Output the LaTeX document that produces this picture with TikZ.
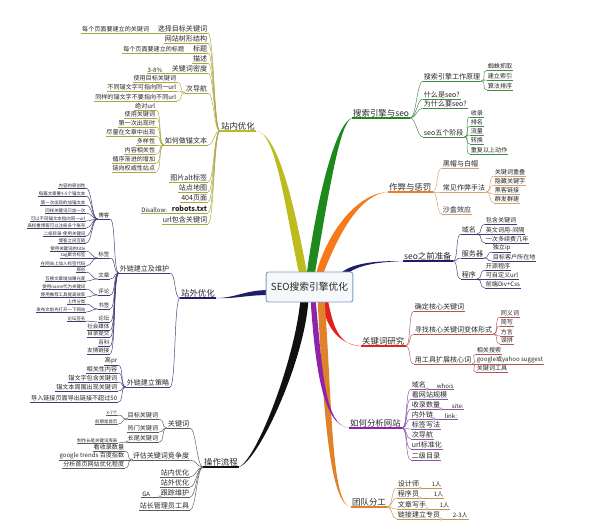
\documentclass[tikz,border=0pt]{standalone}
\usepackage{fontspec}
\setmainfont{Noto Sans CJK SC}
\usetikzlibrary{calc,backgrounds}

\definecolor{txt}{HTML}{262626}
\definecolor{rootline}{HTML}{7F9DC0}
\definecolor{rootfill}{HTML}{F6F8FB}
\definecolor{brOlive}{HTML}{BDBB1E}\definecolor{lnOlive}{HTML}{A9A640}
\definecolor{brGreen}{HTML}{1E8A1E}\definecolor{lnGreen}{HTML}{3C8C46}
\definecolor{brOrange}{HTML}{F47A1C}\definecolor{lnOrange}{HTML}{D9A06E}
\definecolor{brNavy}{HTML}{1D1D6B}\definecolor{lnNavy}{HTML}{3C3C72}
\definecolor{brRed}{HTML}{E4201C}\definecolor{lnRed}{HTML}{B65454}
\definecolor{brPurple}{HTML}{8E22A8}\definecolor{lnPurple}{HTML}{8A55A8}
\definecolor{brAmber}{HTML}{E0822A}\definecolor{lnAmber}{HTML}{C4934F}
\definecolor{brBlack}{HTML}{111111}\definecolor{lnBlack}{HTML}{5A5A5A}

\tikzset{
  root/.style={draw=rootline, fill=rootfill, rounded corners=2pt, line width=0.8pt,
    minimum width=26mm, minimum height=9mm, inner sep=1pt, text=txt,
    font=\fontsize{8.3}{9}\selectfont},
  ul/.style={append after command={(\tikzlastnode.south west)
    edge[draw=linecol, line width=0.35pt] (\tikzlastnode.south east)}},
  main/.style={inner sep=0.8pt, text=txt, font=\fontsize{7.2}{8}\selectfont,
    append after command={(\tikzlastnode.south west)
    edge[draw=brcol, line width=1.3pt] (\tikzlastnode.south east)}},
  lvl/.style={ul, inner sep=0.6pt, text=txt, font=\fontsize{6}{7}\selectfont},
  leaf/.style={ul, inner sep=0.5pt, text=txt, font=\fontsize{5.2}{6}\selectfont},
  tiny/.style={ul, inner sep=0.4pt, text=txt, font=\fontsize{4.7}{5.5}\selectfont},
  micro/.style={ul, inner sep=0.3pt, text=txt, font=\fontsize{3.8}{4.5}\selectfont},
  conn/.style={draw=linecol, line width=0.4pt},
  toR/.style={out=0, in=180, distance=1.8mm},
  toL/.style={out=180, in=0, distance=1.8mm},
  knot/.style={draw=linecol, fill=white, line width=0.3pt},
}

\begin{document}
\begin{tikzpicture}[x=0.3mm, y=-0.3mm]
	\useasboundingbox (0,0) rectangle (600,529);
	\node[root] (root) at (309.5,287) {SEO搜索引擎优化};

	\begin{scope} % 站内优化
		\colorlet{brcol}{brOlive}\colorlet{linecol}{lnOlive}
		\node[main, anchor=south east] (zn) at (256,131) {站内优化};
		\begin{pgfonlayer}{background}
			\fill[brcol] ($(root.north)+(-10,4)$) .. controls +(-15,-70) and +(20,0) .. (zn.south east)
				.. controls +(22,1.5) and +(-13,-70) .. ($(root.north)+(-2,4)$) -- cycle;
		\end{pgfonlayer}
		\foreach \t/\y [count=\i] in {选择目标关键词/33, 网站树形结构/43, 标题/53, 描述/63, 关键词密度/73, 次导航/93,
			如何做锚文本/145, 图片alt标签/182, 站点地图/192, 404页面/202, {\bfseries robots.txt}/213, url包含关键词/224}{
			\node[lvl, anchor=south east] (zn\i) at (208,\y) {\t};
			\draw[conn] (zn.south west) to[toL] (zn\i.south east);
		}
		\node[leaf, anchor=south east] (zn1-1) at (150,33) {每个页面要建立的关键词};
		\draw[conn] (zn1.south west) -- (zn1-1.south east);
		\node[leaf, anchor=south east] (zn3-1) at (185,53) {每个页面要建立的标题};
		\draw[conn] (zn3.south west) -- (zn3-1.south east);
		\node[leaf, anchor=south east] (zn5-1) at (163,73) {3-8\%};
		\draw[conn] (zn5.south west) -- (zn5-1.south east);
		\foreach \t/\y [count=\i] in {使用目标关键词/82, 不同锚文字可指向同一url/91, 同样的锚文字不要指向不同url/101}{
			\node[leaf, anchor=south east] (zn6-\i) at (177,\y) {\t};
			\draw[conn] (zn6.south west) to[toL] (zn6-\i.south east);
		}
		\foreach \t/\y [count=\i] in {绝对url/110, 使用关键词/118, 第一次出现时/127, 尽量在文章中出现/136,
			多样性/145, 内容相关性/154, 循序渐进的增加/163, 链向权威性站点/172}{
			\node[leaf, anchor=south east] (zn7-\i) at (156,\y) {\t};
			\draw[conn] (zn7.south west) to[toL] (zn7-\i.south east);
		}
		\node[leaf, anchor=south east] (zn11-1) at (168,213) {Disallow:};
		\draw[conn] (zn11.south west) -- (zn11-1.south east);
	\end{scope}

	\begin{scope} % 站外优化
		\colorlet{brcol}{brNavy}\colorlet{linecol}{lnNavy}
		\node[main, anchor=south east] (zh) at (216,298) {站外优化};
		\begin{pgfonlayer}{background}
			\fill[brcol] ($(root.west)+(4,3)$) .. controls +(-25,0) and +(20,0) .. (zh.south east)
				.. controls +(20,1) and +(-25,0) .. ($(root.west)+(4,8)$) -- cycle;
		\end{pgfonlayer}
		\node[lvl, anchor=south east] (zh1) at (170,273) {外链建立及维护};
		\node[lvl, anchor=south east] (zh2) at (170,387) {外链建立策略};
		\foreach \i in {1,2}
			\draw[conn] (zh.south west) to[toL] (zh\i.south east);
		\foreach \t/\y [count=\i] in {博客/219, 标签/258, 文章/279, 评论/295, 书签/309, 论坛/322,
			社会媒体/330, 目录提交/337, 百科/346, 友情链接/354}{
			\node[tiny, anchor=south east] (zh1-\i) at (110,\y) {\t};
			\draw[conn] (zh1.south west) to[toL] (zh1-\i.south east);
		}
		\foreach \t/\y [count=\i] in {内容的原创性/188, 每篇文章要3-5个锚文本/196, 第一次出现的加锚文本/205,
			同样关键词只加一次/213, 可以不同锚文本指向同一url/221, 高权重博客可以注册多个账号/228,
			二级目录-使用关键词/236, 博客之间互链/243}{
			\node[micro, anchor=south east] (zh1-1-\i) at (86,\y) {\t};
			\draw[conn] (zh1-1.south west) to[toL] (zh1-1-\i.south east);
		}
		\foreach \t/\y [count=\i] in {使用关键词的title/251, tag聚合标签/258, 在网站上加入标签代码/266}{
			\node[micro, anchor=south east] (zh1-2-\i) at (86,\y) {\t};
			\draw[conn] (zh1-2.south west) to[toL] (zh1-2-\i.south east);
		}
		\foreach \t/\y [count=\i] in {原创/272, 互换文章增加曝光度/281}{
			\node[micro, anchor=south east] (zh1-3-\i) at (86,\y) {\t};
			\draw[conn] (zh1-3.south west) to[toL] (zh1-3-\i.south east);
		}
		\foreach \t/\y [count=\i] in {使用name代为关键词/289, 使用推荐工具提高效率/297}{
			\node[micro, anchor=south east] (zh1-4-\i) at (86,\y) {\t};
			\draw[conn] (zh1-4.south west) to[toL] (zh1-4-\i.south east);
		}
		\foreach \t/\y [count=\i] in {上传分类/304, 发布文前先打开一下网站/312}{
			\node[micro, anchor=south east] (zh1-5-\i) at (86,\y) {\t};
			\draw[conn] (zh1-5.south west) to[toL] (zh1-5-\i.south east);
		}
		\node[micro, anchor=south east] (zh1-6-1) at (86,321) {论坛签名};
		\draw[conn] (zh1-6.south west) to[toL] (zh1-6-1.south east);
		\foreach \t/\y [count=\i] in {高pr/365, 相关性内容/373, 锚文字包含关键词/382, 锚文本周围出现关键词/391,
			导入链接页面导出链接不超过50/402}{
			\node[leaf, anchor=south east] (zh2-\i) at (118,\y) {\t};
			\draw[conn] (zh2.south west) to[toL] (zh2-\i.south east);
		}
	\end{scope}

	\begin{scope} % 操作流程
		\colorlet{brcol}{brBlack}\colorlet{linecol}{lnBlack}
		\node[main, anchor=south east] (zi) at (239,467) {操作流程};
		\begin{pgfonlayer}{background}
			\fill[brcol] ($(root.south)+(-9,-4)$) .. controls +(-5,60) and +(18,-8) .. (zi.south east)
				.. controls +(20,-6) and +(-3,60) .. ($(root.south)+(-1,-4)$) -- cycle;
		\end{pgfonlayer}
		\foreach \t/\y [count=\i] in {关键词/428, 评估关键词竞争度/460, 站内优化/477, 站外优化/487, 跟踪维护/497, 站长管理员工具/510}{
			\node[lvl, anchor=south east] (zi\i) at (190,\y) {\t};
			\draw[conn] (zi.south west) to[toL] (zi\i.south east);
		}
		\foreach \t/\y [count=\i] in {目标关键词/419, 热门关键词/432, 长尾关键词/442}{
			\node[leaf, anchor=south east] (zi1-\i) at (159,\y) {\t};
			\draw[conn] (zi1.south west) to[toL] (zi1-\i.south east);
		}
		\foreach \t/\y [count=\i] in {3-7个/415, 前期是首页/424}{
			\node[micro, anchor=south east] (zi1-1-\i) at (118,\y) {\t};
			\draw[conn] (zi1-1.south west) to[toL] (zi1-1-\i.south east);
		}
		\node[micro, anchor=south east] (zi1-3-1) at (118,443) {制作长尾关键词库表};
		\draw[conn] (zi1-3.south west) -- (zi1-3-1.south east);
		\foreach \t/\y [count=\i] in {看收录数量/451, google trends 百度指数/460, 分析首页网站优化程度/468}{
			\node[leaf, anchor=south east] (zi2-\i) at (125,\y) {\t};
			\draw[conn] (zi2.south west) to[toL] (zi2-\i.south east);
		}
		\node[leaf, anchor=south east] (zi5-1) at (151,497) {GA};
		\draw[conn] (zi5.south west) -- (zi5-1.south east);
		\foreach \n in {zi1-1, zi1-3, zi2, zi5}
			\draw[knot] (\n.south west) circle [radius=0.4mm];
	\end{scope}

	\begin{scope} % 搜索引擎与seo
		\colorlet{brcol}{brGreen}\colorlet{linecol}{lnGreen}
		\node[main, anchor=south west] (ss) at (352,118) {搜索引擎与seo};
		\begin{pgfonlayer}{background}
			\fill[brcol] ($(root.north)+(-3,4)$) .. controls +(12,-90) and +(-14,3) .. (ss.south west)
				.. controls +(-12,4) and +(15,-88) .. ($(root.north)+(5,4)$) -- cycle;
		\end{pgfonlayer}
		\foreach \t/\y [count=\i] in {搜索引擎工作原理/81, 什么是seo?/99, 为什么要seo?/108, seo五个阶段/137}{
			\node[lvl, anchor=south west] (ss\i) at (423,\y) {\t};
			\draw[conn] (ss.south east) to[toR] (ss\i.south west);
		}
		\foreach \t/\y [count=\i] in {蜘蛛抓取/70, 建立索引/80, 算法排序/90}{
			\node[leaf, anchor=south west] (ss1-\i) at (487,\y) {\t};
			\draw[conn] (ss1.south east) to[toR] (ss1-\i.south west);
		}
		\foreach \t/\y [count=\i] in {收录/117, 排名/126, 流量/135, 转换/144, 重复以上动作/154}{
			\node[leaf, anchor=south west] (ss4-\i) at (470,\y) {\t};
			\draw[conn] (ss4.south east) to[toR] (ss4-\i.south west);
		}
	\end{scope}

	\begin{scope} % 作弊与惩罚
		\colorlet{brcol}{brOrange}\colorlet{linecol}{lnOrange}
		\node[main, anchor=south west] (zb) at (388,192) {作弊与惩罚};
		\begin{pgfonlayer}{background}
			\fill[brcol] ($(root.north)+(6,4)$) .. controls +(12,-45) and +(-30,1) .. (zb.south west)
				.. controls +(-28,2) and +(16,-42) .. ($(root.north)+(13,4)$) -- cycle;
		\end{pgfonlayer}
		\foreach \t/\y [count=\i] in {黑帽与白帽/168, 常见作弊手法/192, 沙盒效应/214}{
			\node[lvl, anchor=south west] (zb\i) at (442,\y) {\t};
			\draw[conn] (zb.south east) to[toR] (zb\i.south west);
		}
		\foreach \t/\y [count=\i] in {关键词重叠/176, 隐藏关键字/185, 黑客链接/194, 群发群建/203}{
			\node[leaf, anchor=south west] (zb2-\i) at (494,\y) {\t};
			\draw[conn] (zb2.south east) to[toR] (zb2-\i.south west);
		}
	\end{scope}

	\begin{scope} % seo之前准备
		\colorlet{brcol}{brNavy}\colorlet{linecol}{lnNavy}
		\node[main, anchor=south west] (zc) at (403,261) {seo之前准备};
		\begin{pgfonlayer}{background}
			\fill[brcol] ($(root.north east)+(-15,4)$) .. controls +(12,-14) and +(-22,0) .. (zc.south west)
				.. controls +(-20,1) and +(12,-12) .. ($(root.north east)+(-8,4)$) -- cycle;
		\end{pgfonlayer}
		\foreach \t/\y [count=\i] in {域名/234, 服务器/258, 程序/279}{
			\node[lvl, anchor=south west] (zc\i) at (461,\y) {\t};
			\draw[conn] (zc.south east) to[toR] (zc\i.south west);
		}
		\foreach \t/\y [count=\i] in {包含关键词/224, 英文词用-间隔/234, 一次多续费几年/243}{
			\node[leaf, anchor=south west] (zc1-\i) at (485,\y) {\t};
			\draw[conn] (zc1.south east) to[toR] (zc1-\i.south west);
		}
		\foreach \t/\y [count=\i] in {独立ip/252, 目标客户所在地/261}{
			\node[leaf, anchor=south west] (zc2-\i) at (492,\y) {\t};
			\draw[conn] (zc2.south east) to[toR] (zc2-\i.south west);
		}
		\foreach \t/\y [count=\i] in {开源程序/270, 可自定义url/279, 前端Div+Css/288}{
			\node[leaf, anchor=south west] (zc3-\i) at (485,\y) {\t};
			\draw[conn] (zc3.south east) to[toR] (zc3-\i.south west);
		}
	\end{scope}

	\begin{scope} % 关键词研究
		\colorlet{brcol}{brRed}\colorlet{linecol}{lnRed}
		\node[main, anchor=south west] (zd) at (361,346) {关键词研究};
		\begin{pgfonlayer}{background}
			\fill[brcol] ($(root.south)+(12,-4)$) .. controls +(3,25) and +(-25,-2) .. (zd.south west)
				.. controls +(-24,0) and +(5,24) .. ($(root.south)+(18,-4)$) -- cycle;
		\end{pgfonlayer}
		\foreach \t/\y [count=\i] in {确定核心关键词/311, 寻找核心关键词变体形式/334, 用工具扩展核心词/364}{
			\node[lvl, anchor=south west] (zd\i) at (414,\y) {\t};
			\draw[conn] (zd.south east) to[toR] (zd\i.south west);
		}
		\foreach \t/\y [count=\i] in {同义词/317, 简写/326, 方言/336, 误拼/344}{
			\node[leaf, anchor=south west] (zd2-\i) at (500,\y) {\t};
			\draw[conn] (zd2.south east) to[toR] (zd2-\i.south west);
		}
		\foreach \t/\y [count=\i] in {相关搜索/354, google或yahoo suggest/364, 关键词工具/372}{
			\node[leaf, anchor=south west] (zd3-\i) at (476,\y) {\t};
			\draw[conn] (zd3.south east) to[toR] (zd3-\i.south west);
		}
	\end{scope}

	\begin{scope} % 团队分工
		\colorlet{brcol}{brAmber}\colorlet{linecol}{lnAmber}
		\node[main, anchor=south west] (zf) at (351,507) {团队分工};
		\begin{pgfonlayer}{background}
			\fill[brcol] ($(root.south)+(8,-4)$) .. controls +(6,110) and +(-22,-3) .. (zf.south west)
				.. controls +(-20,-2) and +(8,108) .. ($(root.south)+(15,-4)$) -- cycle;
		\end{pgfonlayer}
		\foreach \t/\y/\x/\n [count=\i] in {设计师/488/431/1人, 程序员/498/433/1人, 文章写手/509/439/1人, 链接建立专员/519/452/2-3人}{
			\node[lvl, anchor=south west] (zf\i) at (397,\y) {\t};
			\draw[conn] (zf.south east) to[toR] (zf\i.south west);
			\node[leaf, anchor=south west] (zf\i-1) at (\x,\y) {\n};
			\draw[conn] (zf\i.south east) -- (zf\i-1.south west);
			\draw[knot] (zf\i.south east) circle [radius=0.4mm];
		}
	\end{scope}

	\begin{scope} % 如何分析网站
		\colorlet{brcol}{brPurple}\colorlet{linecol}{lnPurple}
		\node[main, anchor=south west] (ze) at (349,428) {如何分析网站};
		\begin{pgfonlayer}{background}
			\fill[brcol] ($(root.south)+(1,-4)$) .. controls +(5,75) and +(-25,-3) .. (ze.south west)
				.. controls +(-24,-2) and +(7,74) .. ($(root.south)+(6,-4)$) -- cycle;
		\end{pgfonlayer}
		\foreach \t/\y [count=\i] in {域名/389, 看网站规模/399, 收录数量/409, 内外链/419, 标签写法/429, 次导航/439, url标准化/449, 二级目录/460}{
			\node[lvl, anchor=south west] (ze\i) at (411,\y) {\t};
			\draw[conn] (ze.south east) to[toR] (ze\i.south west);
		}
		\foreach \n/\t/\x/\y in {1/whois/436/389, 3/site:/451/409, 4/link:/444/419}{
			\node[leaf, anchor=south west] (ze\n-1) at (\x,\y) {\t};
			\draw[conn] (ze\n.south east) -- (ze\n-1.south west);
			\draw[knot] (ze\n.south east) circle [radius=0.4mm];
		}
	\end{scope}
\end{tikzpicture}
\end{document}
